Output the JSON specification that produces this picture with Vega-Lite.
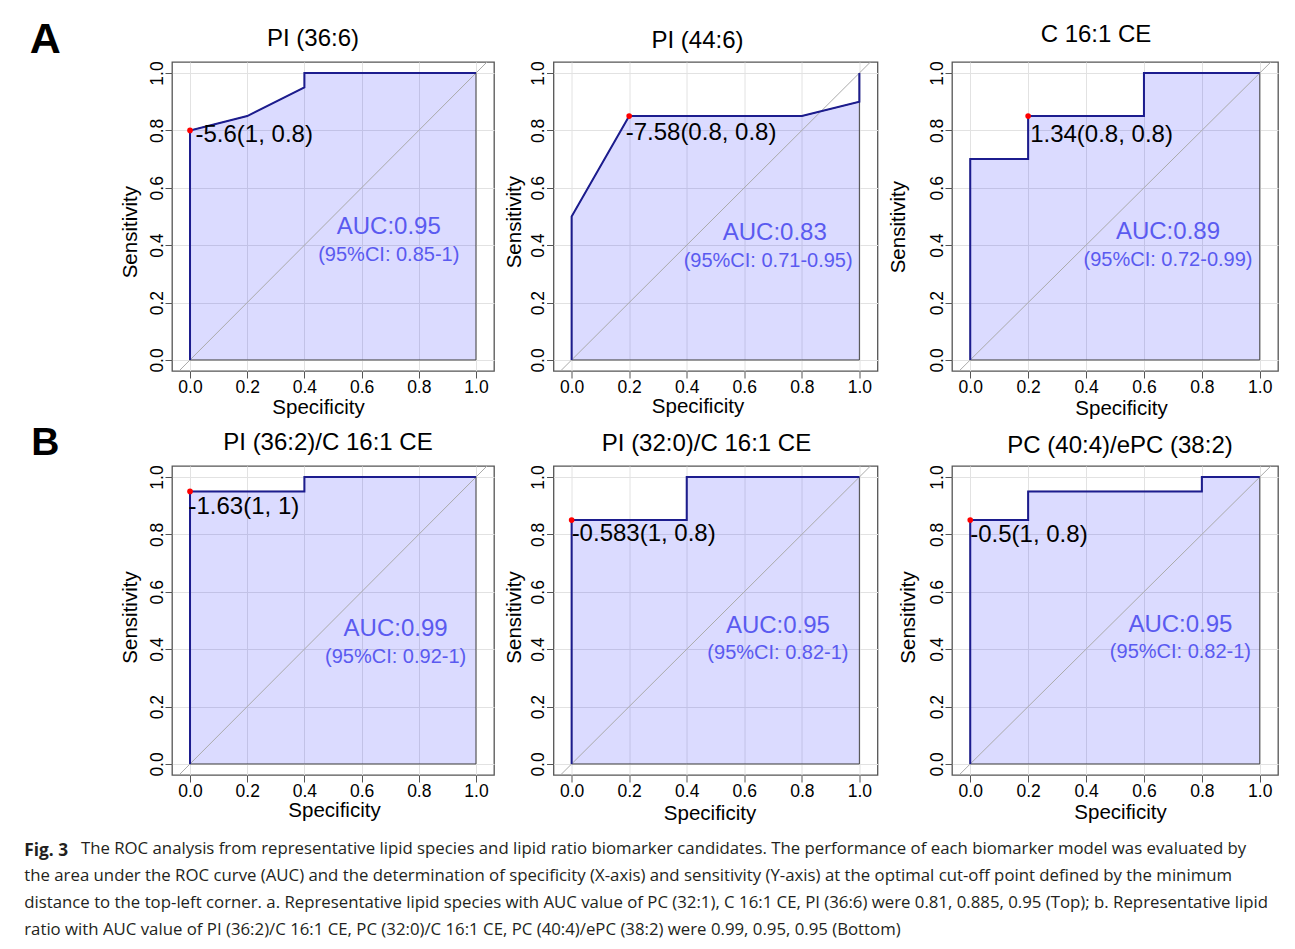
{
  "$schema": "https://vega.github.io/schema/vega-lite/v6.json",
  "padding": {"left": 24, "top": 17, "right": 5, "bottom": 5},
  "background": "white",
  "datasets": {
    "roc": [
      {"panel": 1, "order": 1, "fpr": 0, "tpr": 0},
      {"panel": 1, "order": 2, "fpr": 0, "tpr": 0.8},
      {"panel": 1, "order": 3, "fpr": 0.2, "tpr": 0.85},
      {"panel": 1, "order": 4, "fpr": 0.4, "tpr": 0.95},
      {"panel": 1, "order": 5, "fpr": 0.4, "tpr": 1},
      {"panel": 1, "order": 6, "fpr": 1, "tpr": 1},
      {"panel": 2, "order": 1, "fpr": 0, "tpr": 0},
      {"panel": 2, "order": 2, "fpr": 0, "tpr": 0.5},
      {"panel": 2, "order": 3, "fpr": 0.2, "tpr": 0.85},
      {"panel": 2, "order": 4, "fpr": 0.8, "tpr": 0.85},
      {"panel": 2, "order": 5, "fpr": 1, "tpr": 0.9},
      {"panel": 2, "order": 6, "fpr": 1, "tpr": 1},
      {"panel": 3, "order": 1, "fpr": 0, "tpr": 0},
      {"panel": 3, "order": 2, "fpr": 0, "tpr": 0.7},
      {"panel": 3, "order": 3, "fpr": 0.2, "tpr": 0.7},
      {"panel": 3, "order": 4, "fpr": 0.2, "tpr": 0.85},
      {"panel": 3, "order": 5, "fpr": 0.6, "tpr": 0.85},
      {"panel": 3, "order": 6, "fpr": 0.6, "tpr": 1},
      {"panel": 3, "order": 7, "fpr": 1, "tpr": 1},
      {"panel": 4, "order": 1, "fpr": 0, "tpr": 0},
      {"panel": 4, "order": 2, "fpr": 0, "tpr": 0.95},
      {"panel": 4, "order": 3, "fpr": 0.4, "tpr": 0.95},
      {"panel": 4, "order": 4, "fpr": 0.4, "tpr": 1},
      {"panel": 4, "order": 5, "fpr": 1, "tpr": 1},
      {"panel": 5, "order": 1, "fpr": 0, "tpr": 0},
      {"panel": 5, "order": 2, "fpr": 0, "tpr": 0.85},
      {"panel": 5, "order": 3, "fpr": 0.4, "tpr": 0.85},
      {"panel": 5, "order": 4, "fpr": 0.4, "tpr": 1},
      {"panel": 5, "order": 5, "fpr": 1, "tpr": 1},
      {"panel": 6, "order": 1, "fpr": 0, "tpr": 0},
      {"panel": 6, "order": 2, "fpr": 0, "tpr": 0.85},
      {"panel": 6, "order": 3, "fpr": 0.2, "tpr": 0.85},
      {"panel": 6, "order": 4, "fpr": 0.2, "tpr": 0.95},
      {"panel": 6, "order": 5, "fpr": 0.8, "tpr": 0.95},
      {"panel": 6, "order": 6, "fpr": 0.8, "tpr": 1},
      {"panel": 6, "order": 7, "fpr": 1, "tpr": 1}
    ],
    "best": [
      {"panel": 1, "fpr": 0, "tpr": 0.8, "label": "-5.6(1, 0.8)", "auc": "AUC:0.95", "ci": "(95%CI: 0.85-1)"},
      {"panel": 2, "fpr": 0.2, "tpr": 0.85, "label": "-7.58(0.8, 0.8)", "auc": "AUC:0.83", "ci": "(95%CI: 0.71-0.95)"},
      {"panel": 3, "fpr": 0.2, "tpr": 0.85, "label": "1.34(0.8, 0.8)", "auc": "AUC:0.89", "ci": "(95%CI: 0.72-0.99)"},
      {"panel": 4, "fpr": 0, "tpr": 0.95, "label": "-1.63(1, 1)", "auc": "AUC:0.99", "ci": "(95%CI: 0.92-1)"},
      {"panel": 5, "fpr": 0, "tpr": 0.85, "label": "-0.583(1, 0.8)", "auc": "AUC:0.95", "ci": "(95%CI: 0.82-1)"},
      {"panel": 6, "fpr": 0, "tpr": 0.85, "label": "-0.5(1, 0.8)", "auc": "AUC:0.95", "ci": "(95%CI: 0.82-1)"}
    ],
    "letters": [
      {"panel": 1, "letter": "A"},
      {"panel": 4, "letter": "B"}
    ]
  },
  "config": {
    "font": "Liberation Sans",
    "view": {"stroke": "#555555", "strokeWidth": 1.3},
    "axis": {"domain": false, "grid": true, "gridColor": "#e2e2e2", "gridWidth": 1, "tickColor": "#555555", "tickWidth": 1, "tickSize": 7, "labelFont": "Liberation Sans", "labelFontSize": 17.5, "labelColor": "#000000", "titleFont": "Liberation Sans", "titleFontSize": 20.5, "titleFontWeight": "normal", "titleColor": "#000000", "labelFlush": false, "labelOverlap": false, "zindex": 0},
    "axisX": {"labelBaseline": "alphabetic", "labelPadding": 14, "titleBaseline": "alphabetic", "titleAlign": "center"},
    "axisY": {"labelAngle": 270, "labelAlign": "center", "labelBaseline": "alphabetic", "labelPadding": 3, "titleAngle": 270, "titleBaseline": "alphabetic", "titleAlign": "center"},
    "title": {"font": "Liberation Sans", "fontSize": 24, "fontWeight": "normal", "color": "#000000", "frame": "group", "anchor": "middle", "baseline": "alphabetic"},
    "text": {"font": "Liberation Sans"}
  },
  "title": {
    "text": "Fig. 3",
    "orient": "bottom", "anchor": "start", "frame": "bounds", "baseline": "top", "offset": 17, "dx": -5,
    "font": "Open Sans", "fontSize": 17.3, "fontWeight": "bold", "color": "#231f20",
    "subtitle": [
      "\u200b\u00a0\u00a0\u00a0\u00a0\u00a0\u00a0\u00a0\u00a0\u00a0\u00a0\u00a0\u00a0\u00a0The ROC analysis from representative lipid species and lipid ratio biomarker candidates. The performance of each biomarker model was evaluated by",
      "the area under the ROC curve (AUC) and the determination of specificity (X-axis) and sensitivity (Y-axis) at the optimal cut-off point defined by the minimum",
      "distance to the top-left corner. a. Representative lipid species with AUC value of PC (32:1), C 16:1 CE, PI (36:6) were 0.81, 0.885, 0.95 (Top); b. Representative lipid",
      "ratio with AUC value of PI (36:2)/C 16:1 CE, PC (32:0)/C 16:1 CE, PC (40:4)/ePC (38:2) were 0.99, 0.95, 0.95 (Bottom)"
    ],
    "subtitleFont": "Open Sans", "subtitleFontSize": 16.8, "subtitleFontWeight": "normal", "subtitleColor": "#231f20", "subtitleLineHeight": 26.7, "subtitlePadding": -17.5
  },
  "columns": 3,
  "align": "each",
  "spacing": {"row": 3, "column": 8.5},
  "concat": [
    {
      "width": 322, "height": 309,
      "title": {"text": "PI (36:6)", "dx": -20, "offset": 13, "dy": 45},
      "layer": [
        {"data": {"name": "roc"}, "transform": [{"filter": "datum.panel == 1"}],
         "mark": {"type": "area", "fill": "#0000ff", "fillOpacity": 0.14, "stroke": "#444444", "strokeWidth": 1},
         "encoding": {
           "x": {"field": "fpr", "type": "quantitative", "scale": {"domain": [-0.063, 1.063], "nice": false, "zero": false},
                 "axis": {"title": "Specificity", "values": [0, 0.1, 0.2, 0.3, 0.4, 0.5, 0.6, 0.7, 0.8, 0.9, 1], "labelExpr": "round(datum.value*10) % 2 == 0 ? format(datum.value, '.1f') : ''", "tickOpacity": {"condition": {"test": "round(datum.value*10) % 2 == 1", "value": 0}, "value": 1}, "titleX": 146, "titleY": 42.5}},
           "y": {"field": "tpr", "type": "quantitative", "scale": {"domain": [-0.0385, 1.0385], "nice": false, "zero": false},
                 "axis": {"title": "Sensitivity", "values": [0, 0.1, 0.2, 0.3, 0.4, 0.5, 0.6, 0.7, 0.8, 0.9, 1], "labelExpr": "round(datum.value*10) % 2 == 0 ? format(datum.value, '.1f') : ''", "tickOpacity": {"condition": {"test": "round(datum.value*10) % 2 == 1", "value": 0}, "value": 1}, "titleX": -36, "titleY": 169.7}},
           "y2": {"datum": 0},
           "order": {"value": null}
         }},
        {"data": {"values": [{"ref": "diagonal"}]}, "mark": {"type": "rule", "clip": true, "color": "#aaaaaa", "strokeWidth": 1},
         "encoding": {"x": {"datum": -0.1}, "y": {"datum": -0.1}, "x2": {"datum": 1.1}, "y2": {"datum": 1.1}}},
        {"data": {"name": "roc"}, "transform": [{"filter": "datum.panel == 1"}], "mark": {"type": "line", "color": "#1c1c8e", "strokeWidth": 2},
         "encoding": {"x": {"field": "fpr", "type": "quantitative"}, "y": {"field": "tpr", "type": "quantitative"}, "order": {"field": "order"}}},
        {"data": {"name": "best"}, "transform": [{"filter": "datum.panel == 1"}], "mark": {"type": "point", "filled": true, "color": "#ff0000", "opacity": 1, "size": 32},
         "encoding": {"x": {"field": "fpr", "type": "quantitative"}, "y": {"field": "tpr", "type": "quantitative"}}},
        {"data": {"name": "best"}, "transform": [{"filter": "datum.panel == 1"}], "mark": {"type": "text", "align": "left", "baseline": "middle", "dx": 5.5, "dy": 5, "fontSize": 24, "color": "#000000"},
         "encoding": {"x": {"field": "fpr", "type": "quantitative"}, "y": {"field": "tpr", "type": "quantitative"}, "text": {"field": "label"}}},
        {"data": {"name": "best"}, "transform": [{"filter": "datum.panel == 1"}], "mark": {"type": "text", "align": "center", "baseline": "alphabetic", "fontSize": 24, "color": "#5a5af0"},
         "encoding": {"x": {"datum": 0.695}, "y": {"datum": 0.44}, "text": {"field": "auc"}}},
        {"data": {"name": "best"}, "transform": [{"filter": "datum.panel == 1"}], "mark": {"type": "text", "align": "center", "baseline": "alphabetic", "fontSize": 20, "color": "#5a5af0"},
         "encoding": {"x": {"datum": 0.695}, "y": {"datum": 0.345}, "text": {"field": "ci"}}},
        {"data": {"name": "letters"}, "transform": [{"filter": "datum.panel == 1"}], "mark": {"type": "text", "align": "left", "baseline": "alphabetic", "fontSize": 43, "fontWeight": "bold", "color": "#000000"},
         "encoding": {"x": {"datum": -0.56}, "y": {"datum": 1.0716}, "text": {"field": "letter"}}}
      ]
    },
    {
      "width": 324, "height": 309,
      "title": {"text": "PI (44:6)", "dx": -18, "offset": 8},
      "layer": [
        {"data": {"name": "roc"}, "transform": [{"filter": "datum.panel == 2"}],
         "mark": {"type": "area", "fill": "#0000ff", "fillOpacity": 0.14, "stroke": "#444444", "strokeWidth": 1},
         "encoding": {
           "x": {"field": "fpr", "type": "quantitative", "scale": {"domain": [-0.063, 1.063], "nice": false, "zero": false},
                 "axis": {"title": "Specificity", "values": [0, 0.1, 0.2, 0.3, 0.4, 0.5, 0.6, 0.7, 0.8, 0.9, 1], "labelExpr": "round(datum.value*10) % 2 == 0 ? format(datum.value, '.1f') : ''", "tickOpacity": {"condition": {"test": "round(datum.value*10) % 2 == 1", "value": 0}, "value": 1}, "titleX": 144, "titleY": 41}},
           "y": {"field": "tpr", "type": "quantitative", "scale": {"domain": [-0.0385, 1.0385], "nice": false, "zero": false},
                 "axis": {"title": "Sensitivity", "values": [0, 0.1, 0.2, 0.3, 0.4, 0.5, 0.6, 0.7, 0.8, 0.9, 1], "labelExpr": "round(datum.value*10) % 2 == 0 ? format(datum.value, '.1f') : ''", "tickOpacity": {"condition": {"test": "round(datum.value*10) % 2 == 1", "value": 0}, "value": 1}, "titleX": -33, "titleY": 159.7}},
           "y2": {"datum": 0},
           "order": {"value": null}
         }},
        {"data": {"values": [{"ref": "diagonal"}]}, "mark": {"type": "rule", "clip": true, "color": "#aaaaaa", "strokeWidth": 1},
         "encoding": {"x": {"datum": -0.1}, "y": {"datum": -0.1}, "x2": {"datum": 1.1}, "y2": {"datum": 1.1}}},
        {"data": {"name": "roc"}, "transform": [{"filter": "datum.panel == 2"}], "mark": {"type": "line", "color": "#1c1c8e", "strokeWidth": 2},
         "encoding": {"x": {"field": "fpr", "type": "quantitative"}, "y": {"field": "tpr", "type": "quantitative"}, "order": {"field": "order"}}},
        {"data": {"name": "best"}, "transform": [{"filter": "datum.panel == 2"}], "mark": {"type": "point", "filled": true, "color": "#ff0000", "opacity": 1, "size": 32},
         "encoding": {"x": {"field": "fpr", "type": "quantitative"}, "y": {"field": "tpr", "type": "quantitative"}}},
        {"data": {"name": "best"}, "transform": [{"filter": "datum.panel == 2"}], "mark": {"type": "text", "align": "left", "baseline": "middle", "dx": -3.5, "dy": 17, "fontSize": 24, "color": "#000000"},
         "encoding": {"x": {"field": "fpr", "type": "quantitative"}, "y": {"field": "tpr", "type": "quantitative"}, "text": {"field": "label"}}},
        {"data": {"name": "best"}, "transform": [{"filter": "datum.panel == 2"}], "mark": {"type": "text", "align": "center", "baseline": "alphabetic", "fontSize": 24, "color": "#5a5af0"},
         "encoding": {"x": {"datum": 0.706}, "y": {"datum": 0.417}, "text": {"field": "auc"}}},
        {"data": {"name": "best"}, "transform": [{"filter": "datum.panel == 2"}], "mark": {"type": "text", "align": "center", "baseline": "alphabetic", "fontSize": 20, "color": "#5a5af0"},
         "encoding": {"x": {"datum": 0.683}, "y": {"datum": 0.323}, "text": {"field": "ci"}}}
      ]
    },
    {
      "width": 326, "height": 309,
      "title": {"text": "C 16:1 CE", "dx": -19, "offset": 14},
      "layer": [
        {"data": {"name": "roc"}, "transform": [{"filter": "datum.panel == 3"}],
         "mark": {"type": "area", "fill": "#0000ff", "fillOpacity": 0.14, "stroke": "#444444", "strokeWidth": 1},
         "encoding": {
           "x": {"field": "fpr", "type": "quantitative", "scale": {"domain": [-0.063, 1.063], "nice": false, "zero": false},
                 "axis": {"title": "Specificity", "values": [0, 0.1, 0.2, 0.3, 0.4, 0.5, 0.6, 0.7, 0.8, 0.9, 1], "labelExpr": "round(datum.value*10) % 2 == 0 ? format(datum.value, '.1f') : ''", "tickOpacity": {"condition": {"test": "round(datum.value*10) % 2 == 1", "value": 0}, "value": 1}, "titleX": 169, "titleY": 43}},
           "y": {"field": "tpr", "type": "quantitative", "scale": {"domain": [-0.0385, 1.0385], "nice": false, "zero": false},
                 "axis": {"title": "Sensitivity", "values": [0, 0.1, 0.2, 0.3, 0.4, 0.5, 0.6, 0.7, 0.8, 0.9, 1], "labelExpr": "round(datum.value*10) % 2 == 0 ? format(datum.value, '.1f') : ''", "tickOpacity": {"condition": {"test": "round(datum.value*10) % 2 == 1", "value": 0}, "value": 1}, "titleX": -48, "titleY": 164.7}},
           "y2": {"datum": 0},
           "order": {"value": null}
         }},
        {"data": {"values": [{"ref": "diagonal"}]}, "mark": {"type": "rule", "clip": true, "color": "#aaaaaa", "strokeWidth": 1},
         "encoding": {"x": {"datum": -0.1}, "y": {"datum": -0.1}, "x2": {"datum": 1.1}, "y2": {"datum": 1.1}}},
        {"data": {"name": "roc"}, "transform": [{"filter": "datum.panel == 3"}], "mark": {"type": "line", "color": "#1c1c8e", "strokeWidth": 2},
         "encoding": {"x": {"field": "fpr", "type": "quantitative"}, "y": {"field": "tpr", "type": "quantitative"}, "order": {"field": "order"}}},
        {"data": {"name": "best"}, "transform": [{"filter": "datum.panel == 3"}], "mark": {"type": "point", "filled": true, "color": "#ff0000", "opacity": 1, "size": 32},
         "encoding": {"x": {"field": "fpr", "type": "quantitative"}, "y": {"field": "tpr", "type": "quantitative"}}},
        {"data": {"name": "best"}, "transform": [{"filter": "datum.panel == 3"}], "mark": {"type": "text", "align": "left", "baseline": "middle", "dx": 2, "dy": 18.5, "fontSize": 24, "color": "#000000"},
         "encoding": {"x": {"field": "fpr", "type": "quantitative"}, "y": {"field": "tpr", "type": "quantitative"}, "text": {"field": "label"}}},
        {"data": {"name": "best"}, "transform": [{"filter": "datum.panel == 3"}], "mark": {"type": "text", "align": "center", "baseline": "alphabetic", "fontSize": 24, "color": "#5a5af0"},
         "encoding": {"x": {"datum": 0.683}, "y": {"datum": 0.421}, "text": {"field": "auc"}}},
        {"data": {"name": "best"}, "transform": [{"filter": "datum.panel == 3"}], "mark": {"type": "text", "align": "center", "baseline": "alphabetic", "fontSize": 20, "color": "#5a5af0"},
         "encoding": {"x": {"datum": 0.683}, "y": {"datum": 0.329}, "text": {"field": "ci"}}}
      ]
    },
    {
      "width": 322, "height": 309,
      "title": {"text": "PI (36:2)/C 16:1 CE", "dx": -5, "offset": 11.8, "dy": 43},
      "layer": [
        {"data": {"name": "roc"}, "transform": [{"filter": "datum.panel == 4"}],
         "mark": {"type": "area", "fill": "#0000ff", "fillOpacity": 0.14, "stroke": "#444444", "strokeWidth": 1},
         "encoding": {
           "x": {"field": "fpr", "type": "quantitative", "scale": {"domain": [-0.063, 1.063], "nice": false, "zero": false},
                 "axis": {"title": "Specificity", "values": [0, 0.1, 0.2, 0.3, 0.4, 0.5, 0.6, 0.7, 0.8, 0.9, 1], "labelExpr": "round(datum.value*10) % 2 == 0 ? format(datum.value, '.1f') : ''", "tickOpacity": {"condition": {"test": "round(datum.value*10) % 2 == 1", "value": 0}, "value": 1}, "titleX": 162, "titleY": 41}},
           "y": {"field": "tpr", "type": "quantitative", "scale": {"domain": [-0.0385, 1.0385], "nice": false, "zero": false},
                 "axis": {"title": "Sensitivity", "values": [0, 0.1, 0.2, 0.3, 0.4, 0.5, 0.6, 0.7, 0.8, 0.9, 1], "labelExpr": "round(datum.value*10) % 2 == 0 ? format(datum.value, '.1f') : ''", "tickOpacity": {"condition": {"test": "round(datum.value*10) % 2 == 1", "value": 0}, "value": 1}, "titleX": -36, "titleY": 151}},
           "y2": {"datum": 0},
           "order": {"value": null}
         }},
        {"data": {"values": [{"ref": "diagonal"}]}, "mark": {"type": "rule", "clip": true, "color": "#aaaaaa", "strokeWidth": 1},
         "encoding": {"x": {"datum": -0.1}, "y": {"datum": -0.1}, "x2": {"datum": 1.1}, "y2": {"datum": 1.1}}},
        {"data": {"name": "roc"}, "transform": [{"filter": "datum.panel == 4"}], "mark": {"type": "line", "color": "#1c1c8e", "strokeWidth": 2},
         "encoding": {"x": {"field": "fpr", "type": "quantitative"}, "y": {"field": "tpr", "type": "quantitative"}, "order": {"field": "order"}}},
        {"data": {"name": "best"}, "transform": [{"filter": "datum.panel == 4"}], "mark": {"type": "point", "filled": true, "color": "#ff0000", "opacity": 1, "size": 32},
         "encoding": {"x": {"field": "fpr", "type": "quantitative"}, "y": {"field": "tpr", "type": "quantitative"}}},
        {"data": {"name": "best"}, "transform": [{"filter": "datum.panel == 4"}], "mark": {"type": "text", "align": "left", "baseline": "middle", "dx": -1.5, "dy": 15.5, "fontSize": 24, "color": "#000000"},
         "encoding": {"x": {"field": "fpr", "type": "quantitative"}, "y": {"field": "tpr", "type": "quantitative"}, "text": {"field": "label"}}},
        {"data": {"name": "best"}, "transform": [{"filter": "datum.panel == 4"}], "mark": {"type": "text", "align": "center", "baseline": "alphabetic", "fontSize": 24, "color": "#5a5af0"},
         "encoding": {"x": {"datum": 0.719}, "y": {"datum": 0.445}, "text": {"field": "auc"}}},
        {"data": {"name": "best"}, "transform": [{"filter": "datum.panel == 4"}], "mark": {"type": "text", "align": "center", "baseline": "alphabetic", "fontSize": 20, "color": "#5a5af0"},
         "encoding": {"x": {"datum": 0.719}, "y": {"datum": 0.352}, "text": {"field": "ci"}}},
        {"data": {"name": "letters"}, "transform": [{"filter": "datum.panel == 4"}], "mark": {"type": "text", "align": "left", "baseline": "alphabetic", "fontSize": 39, "fontWeight": "bold", "color": "#000000"},
         "encoding": {"x": {"datum": -0.555}, "y": {"datum": 1.076}, "text": {"field": "letter"}}}
      ]
    },
    {
      "width": 324, "height": 309,
      "title": {"text": "PI (32:0)/C 16:1 CE", "dx": -9, "offset": 8.6},
      "layer": [
        {"data": {"name": "roc"}, "transform": [{"filter": "datum.panel == 5"}],
         "mark": {"type": "area", "fill": "#0000ff", "fillOpacity": 0.14, "stroke": "#444444", "strokeWidth": 1},
         "encoding": {
           "x": {"field": "fpr", "type": "quantitative", "scale": {"domain": [-0.063, 1.063], "nice": false, "zero": false},
                 "axis": {"title": "Specificity", "values": [0, 0.1, 0.2, 0.3, 0.4, 0.5, 0.6, 0.7, 0.8, 0.9, 1], "labelExpr": "round(datum.value*10) % 2 == 0 ? format(datum.value, '.1f') : ''", "tickOpacity": {"condition": {"test": "round(datum.value*10) % 2 == 1", "value": 0}, "value": 1}, "titleX": 156, "titleY": 44.5}},
           "y": {"field": "tpr", "type": "quantitative", "scale": {"domain": [-0.0385, 1.0385], "nice": false, "zero": false},
                 "axis": {"title": "Sensitivity", "values": [0, 0.1, 0.2, 0.3, 0.4, 0.5, 0.6, 0.7, 0.8, 0.9, 1], "labelExpr": "round(datum.value*10) % 2 == 0 ? format(datum.value, '.1f') : ''", "tickOpacity": {"condition": {"test": "round(datum.value*10) % 2 == 1", "value": 0}, "value": 1}, "titleX": -33, "titleY": 151}},
           "y2": {"datum": 0},
           "order": {"value": null}
         }},
        {"data": {"values": [{"ref": "diagonal"}]}, "mark": {"type": "rule", "clip": true, "color": "#aaaaaa", "strokeWidth": 1},
         "encoding": {"x": {"datum": -0.1}, "y": {"datum": -0.1}, "x2": {"datum": 1.1}, "y2": {"datum": 1.1}}},
        {"data": {"name": "roc"}, "transform": [{"filter": "datum.panel == 5"}], "mark": {"type": "line", "color": "#1c1c8e", "strokeWidth": 2},
         "encoding": {"x": {"field": "fpr", "type": "quantitative"}, "y": {"field": "tpr", "type": "quantitative"}, "order": {"field": "order"}}},
        {"data": {"name": "best"}, "transform": [{"filter": "datum.panel == 5"}], "mark": {"type": "point", "filled": true, "color": "#ff0000", "opacity": 1, "size": 32},
         "encoding": {"x": {"field": "fpr", "type": "quantitative"}, "y": {"field": "tpr", "type": "quantitative"}}},
        {"data": {"name": "best"}, "transform": [{"filter": "datum.panel == 5"}], "mark": {"type": "text", "align": "left", "baseline": "middle", "dx": 0, "dy": 14, "fontSize": 24, "color": "#000000"},
         "encoding": {"x": {"field": "fpr", "type": "quantitative"}, "y": {"field": "tpr", "type": "quantitative"}, "text": {"field": "label"}}},
        {"data": {"name": "best"}, "transform": [{"filter": "datum.panel == 5"}], "mark": {"type": "text", "align": "center", "baseline": "alphabetic", "fontSize": 24, "color": "#5a5af0"},
         "encoding": {"x": {"datum": 0.717}, "y": {"datum": 0.455}, "text": {"field": "auc"}}},
        {"data": {"name": "best"}, "transform": [{"filter": "datum.panel == 5"}], "mark": {"type": "text", "align": "center", "baseline": "alphabetic", "fontSize": 20, "color": "#5a5af0"},
         "encoding": {"x": {"datum": 0.717}, "y": {"datum": 0.366}, "text": {"field": "ci"}}}
      ]
    },
    {
      "width": 326, "height": 309,
      "title": {"text": "PC (40:4)/ePC (38:2)", "dx": 5, "offset": 7},
      "layer": [
        {"data": {"name": "roc"}, "transform": [{"filter": "datum.panel == 6"}],
         "mark": {"type": "area", "fill": "#0000ff", "fillOpacity": 0.14, "stroke": "#444444", "strokeWidth": 1},
         "encoding": {
           "x": {"field": "fpr", "type": "quantitative", "scale": {"domain": [-0.063, 1.063], "nice": false, "zero": false},
                 "axis": {"title": "Specificity", "values": [0, 0.1, 0.2, 0.3, 0.4, 0.5, 0.6, 0.7, 0.8, 0.9, 1], "labelExpr": "round(datum.value*10) % 2 == 0 ? format(datum.value, '.1f') : ''", "tickOpacity": {"condition": {"test": "round(datum.value*10) % 2 == 1", "value": 0}, "value": 1}, "titleX": 168, "titleY": 43}},
           "y": {"field": "tpr", "type": "quantitative", "scale": {"domain": [-0.0385, 1.0385], "nice": false, "zero": false},
                 "axis": {"title": "Sensitivity", "values": [0, 0.1, 0.2, 0.3, 0.4, 0.5, 0.6, 0.7, 0.8, 0.9, 1], "labelExpr": "round(datum.value*10) % 2 == 0 ? format(datum.value, '.1f') : ''", "tickOpacity": {"condition": {"test": "round(datum.value*10) % 2 == 1", "value": 0}, "value": 1}, "titleX": -38, "titleY": 151}},
           "y2": {"datum": 0},
           "order": {"value": null}
         }},
        {"data": {"values": [{"ref": "diagonal"}]}, "mark": {"type": "rule", "clip": true, "color": "#aaaaaa", "strokeWidth": 1},
         "encoding": {"x": {"datum": -0.1}, "y": {"datum": -0.1}, "x2": {"datum": 1.1}, "y2": {"datum": 1.1}}},
        {"data": {"name": "roc"}, "transform": [{"filter": "datum.panel == 6"}], "mark": {"type": "line", "color": "#1c1c8e", "strokeWidth": 2},
         "encoding": {"x": {"field": "fpr", "type": "quantitative"}, "y": {"field": "tpr", "type": "quantitative"}, "order": {"field": "order"}}},
        {"data": {"name": "best"}, "transform": [{"filter": "datum.panel == 6"}], "mark": {"type": "point", "filled": true, "color": "#ff0000", "opacity": 1, "size": 32},
         "encoding": {"x": {"field": "fpr", "type": "quantitative"}, "y": {"field": "tpr", "type": "quantitative"}}},
        {"data": {"name": "best"}, "transform": [{"filter": "datum.panel == 6"}], "mark": {"type": "text", "align": "left", "baseline": "middle", "dx": 0, "dy": 15, "fontSize": 24, "color": "#000000"},
         "encoding": {"x": {"field": "fpr", "type": "quantitative"}, "y": {"field": "tpr", "type": "quantitative"}, "text": {"field": "label"}}},
        {"data": {"name": "best"}, "transform": [{"filter": "datum.panel == 6"}], "mark": {"type": "text", "align": "center", "baseline": "alphabetic", "fontSize": 24, "color": "#5a5af0"},
         "encoding": {"x": {"datum": 0.726}, "y": {"datum": 0.461}, "text": {"field": "auc"}}},
        {"data": {"name": "best"}, "transform": [{"filter": "datum.panel == 6"}], "mark": {"type": "text", "align": "center", "baseline": "alphabetic", "fontSize": 20, "color": "#5a5af0"},
         "encoding": {"x": {"datum": 0.726}, "y": {"datum": 0.369}, "text": {"field": "ci"}}}
      ]
    }
  ]
}
